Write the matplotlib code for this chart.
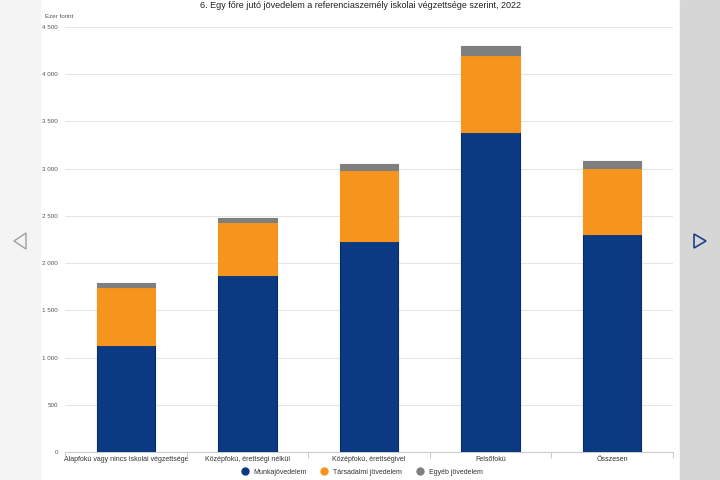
import numpy as np
import matplotlib.pyplot as plt
from matplotlib.patches import Rectangle, Polygon
from matplotlib.lines import Line2D

# Data (ezer forint)
categories = ['Alapfokú vagy nincs iskolai végzettsége', 'Középfokú, érettségi nélkül',
              'Középfokú, érettségivel', 'Felsőfokú', 'Összesen']
munka = [1133, 1874, 2234, 3388, 2308]
tarsadalmi = [614, 561, 752, 816, 699]
egyeb = [43, 43, 64, 95, 74]

series = ['Munkajövedelem', 'Társadalmi jövedelem', 'Egyéb jövedelem']
colors = ['#0b3a82', '#f7941d', '#7f7f7f']
edges = ['#0a2b6b', '#f7941d', '#7f7f7f']

yticks = [0, 500, 1000, 1500, 2000, 2500, 3000, 3500, 4000, 4500]
ytick_labels = ['0', '500', '1 000', '1 500', '2 000', '2 500', '3 000', '3 500', '4 000', '4 500']

plt.rcParams['font.family'] = ['Liberation Sans', 'DejaVu Sans']

fig = plt.figure(figsize=(7.2, 4.8), dpi=100)
fig.patch.set_facecolor('white')

# side panels
fig.patches.append(Rectangle((0, 0), 40/720, 1, transform=fig.transFigure, color='#f4f4f4', zorder=0))
fig.patches.append(Rectangle((680/720, 0), 40/720, 1, transform=fig.transFigure, color='#d6d6d6', zorder=0))
fig.patches.append(Polygon([[26/720, 1-233/480], [14/720, 1-241/480], [26/720, 1-249/480]],
                           closed=True, fill=False, edgecolor='#a0a0a0', lw=1.0, transform=fig.transFigure))
fig.patches.append(Polygon([[694/720, 1-234/480], [706/720, 1-241/480], [694/720, 1-248/480]],
                           closed=True, fill=False, edgecolor='#1f3f8f', lw=1.2, transform=fig.transFigure))

ax = fig.add_axes([65/720, 28/480, 608/720, 425/480])
x = np.arange(len(categories))
w = 0.48
bottom = np.zeros(len(categories))
for vals, name, c, ec in zip([munka, tarsadalmi, egyeb], series, colors, edges):
    ax.bar(x, vals, w, bottom=bottom, color=c, edgecolor=ec, linewidth=0.8, label=name, zorder=3)
    bottom += np.array(vals)

ax.set_xlim(-0.5, len(categories) - 0.5)
ax.set_ylim(0, 4500)
ax.set_yticks(yticks)
ax.set_yticklabels(ytick_labels)
ax.yaxis.grid(True, color='#e6e6e6', lw=0.8, zorder=0)
ax.tick_params(axis='y', length=0, labelsize=4.5, labelcolor='#555555', pad=5)
ax.set_xticks(x)
ax.set_xticklabels(categories)
ax.set_xticks(np.arange(-0.5, len(categories)), minor=True)
ax.tick_params(axis='x', which='major', length=0, labelsize=5, labelcolor='#333333', pad=3)
ax.tick_params(axis='x', which='minor', length=4, color='#cccccc', width=0.8)
for s in ['top', 'right', 'left']:
    ax.spines[s].set_visible(False)
ax.spines['bottom'].set_color('#cccccc')

fig.text(360/720, 1-6/480, '6. Egy főre jutó jövedelem a referenciaszemély iskolai végzettsége szerint, 2022',
         ha='center', va='center', fontsize=6.5, color='#222222')
fig.text(45/720, 1-17/480, 'Ezer forint', ha='left', va='center', fontsize=4.5, color='#555555')

handles = [Line2D([], [], marker='o', ls='', color=c, markersize=5) for c in colors]
fig.legend(handles, series, loc='center', bbox_to_anchor=(360/720, 1-472/480), ncol=3,
           frameon=False, fontsize=5, handletextpad=0.3, columnspacing=1.5, labelcolor='#333333')

fig.savefig('out.png', dpi=100)
